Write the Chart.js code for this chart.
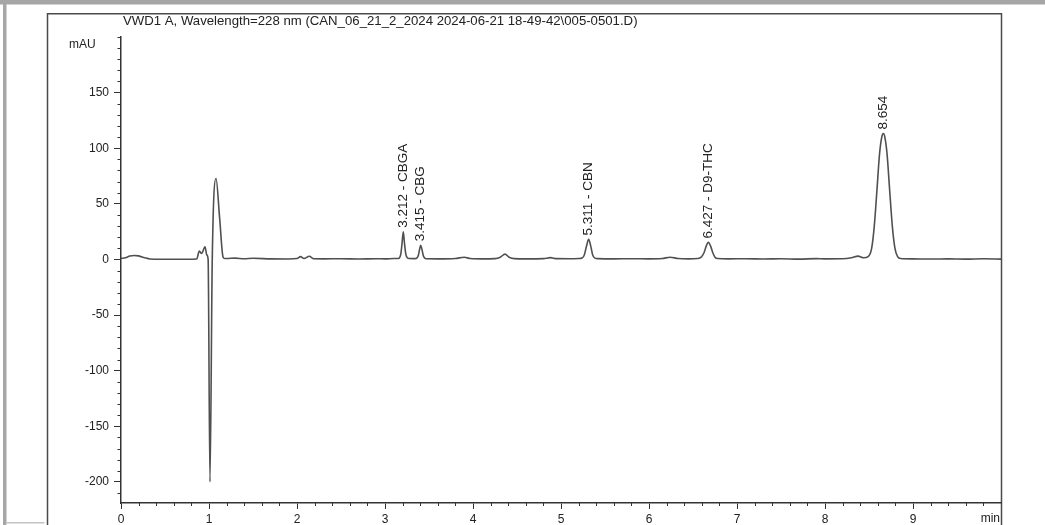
<!DOCTYPE html>
<html><head><meta charset="utf-8">
<script src="https://cdn.jsdelivr.net/npm/chart.js@4.4.1/dist/chart.umd.min.js"></script>
<style>html,body{margin:0;padding:0;background:#fff;overflow:hidden}canvas{display:block}</style>
</head><body>
<canvas id="c" width="1045" height="525"></canvas>
<script>
const titleText = 'VWD1 A, Wavelength=228 nm (CAN_06_21_2_2024 2024-06-21 18-49-42\\005-0501.D)';
const yUnit = 'mAU';
const xUnit = 'min';

// retention time (min)
const times = [
  0.00, 0.05, 0.10, 0.15, 0.20, 0.27, 0.33, 0.45, 0.60, 0.75,
  0.86, 0.89, 0.915, 0.955, 0.975, 0.99, 1.011, 1.037, 1.08, 1.12, 1.16, 1.18,
  1.20, 1.30, 1.40, 1.50, 1.70, 1.90, 2.00, 2.04, 2.08, 2.14, 2.19, 2.30, 2.50, 2.70, 2.90, 3.00, 3.10, 3.15,
  3.165, 3.18, 3.193, 3.208, 3.222, 3.236, 3.25, 3.27,
  3.34, 3.365, 3.38, 3.393, 3.406, 3.42, 3.433, 3.448, 3.47,
  3.60, 3.80, 3.90, 3.97, 4.10, 4.25, 4.31, 4.364, 4.41, 4.47, 4.60, 4.80, 4.88, 4.95, 5.10, 5.20,
  5.24, 5.265, 5.29, 5.314, 5.338, 5.36, 5.385, 5.42,
  5.60, 5.80, 6.00, 6.15, 6.24, 6.33, 6.45, 6.55,
  6.59, 6.625, 6.65, 6.674, 6.70, 6.725, 6.75, 6.78,
  6.90, 7.10, 7.30, 7.50, 7.70, 7.90, 8.00, 8.20, 8.30, 8.375, 8.44,
  8.49, 8.53, 8.56, 8.59, 8.62, 8.645, 8.663, 8.68, 8.705, 8.735, 8.765, 8.795, 8.825, 8.86,
  9.00, 9.20, 9.40, 9.60, 9.80, 10.00
];
// detector signal (mAU)
const signal = [
  0.8, 1.5, 3.0, 3.6, 3.2, 1.5, 0.4, 0.1, 0.2, 0.2,
  0.4, 7.5, 5.4, 11.3, 4.0, 0.0, -200, 0.0, 72.8, 38, 2.0, 0.8,
  0.8, 1.2, 0.6, 1.0, 0.5, 0.4, 0.8, 2.5, 0.8, 2.8, 0.6, 0.5, 0.6, 0.4, 0.6, 0.5, 0.8, 0.9,
  1.5, 5.0, 14, 24.8, 14, 5.0, 1.8, 0.8,
  0.7, 1.5, 4.0, 9.0, 12.8, 9.0, 4.0, 1.5, 0.6,
  0.5, 0.9, 2.0, 0.8, 0.5, 0.7, 2.0, 4.8, 2.0, 0.7, 0.5, 0.7, 1.6, 0.7, 0.6, 0.8,
  1.3, 4.0, 12, 18, 12, 4.0, 1.2, 0.7,
  0.5, 0.6, 0.5, 0.8, 2.0, 0.8, 0.5, 0.8,
  1.8, 6.0, 12, 15.3, 12, 6.0, 2.0, 0.8,
  0.5, 0.6, 0.4, 0.6, 0.3, 0.7, 0.5, 0.6, 1.5, 3.0, 1.5,
  2.5, 10, 30, 62, 95, 110, 113.2, 110, 95, 62, 30, 10, 2.5, 0.8,
  0.5, 0.4, 0.5, 0.3, 0.6, 0.3
];

const peakTimes = [3.208, 3.406, 5.314, 6.674, 8.663];
const peakHeights = [24.8, 12.8, 18, 15.3, 113.2];
const peakLabels = ['3.212 - CBGA', '3.415 - CBG', '5.311 - CBN', '6.427 - D9-THC', '8.654'];

const xTickValues = [0, 1, 2, 3, 4, 5, 6, 7, 8, 9];
const yTickValues = [-200, -150, -100, -50, 0, 50, 100, 150];
const xMinorStep = 0.2;
const yMinorStep = 10;

const FONT = "'Liberation Sans', Arial, Helvetica, sans-serif";
const points = times.map((t, i) => ({x: t, y: signal[i]}));

const decor = {
  id: 'decor',
  beforeDraw(chart) {
    const ctx = chart.ctx, W = chart.width, H = chart.height;
    ctx.save();
    ctx.fillStyle = '#fff';
    ctx.fillRect(0, 0, W, H);
    ctx.fillStyle = '#a6a6a6';
    ctx.fillRect(0, 0, W, 4.5);
    ctx.fillRect(3, 0, 3.5, H);
    ctx.fillStyle = '#c4c4c4';
    ctx.fillRect(6.5, 522, 38, 1.5);
    ctx.strokeStyle = '#4a4a4a';
    ctx.lineWidth = 1.5;
    ctx.beginPath();
    ctx.moveTo(47.5, H);
    ctx.lineTo(47.5, 13.75);
    ctx.lineTo(1001.5, 13.75);
    ctx.lineTo(1001.5, H);
    ctx.stroke();
    ctx.restore();
  },
  afterDraw(chart) {
    const ctx = chart.ctx;
    const xs = chart.scales.x, ys = chart.scales.y;
    const area = chart.chartArea;
    ctx.save();
    ctx.strokeStyle = '#333';
    ctx.lineWidth = 1;
    ctx.beginPath();
    for (let v = xMinorStep; v < xs.max - 1e-6; v += xMinorStep) {
      if (Math.abs(v - Math.round(v)) < 1e-6) continue;
      const px = Math.round(xs.getPixelForValue(v)) + 0.5;
      ctx.moveTo(px, area.bottom);
      ctx.lineTo(px, area.bottom + 3);
    }
    for (let v = -210; v <= ys.max + 1e-6; v += yMinorStep) {
      if (v % 50 === 0 && v !== 200) continue;
      const py = Math.round(ys.getPixelForValue(v)) + 0.5;
      ctx.moveTo(area.left, py);
      ctx.lineTo(area.left - 3.5, py);
    }
    ctx.stroke();

    ctx.fillStyle = '#222';
    ctx.font = '13.2px ' + FONT;
    ctx.textAlign = 'left';
    ctx.textBaseline = 'middle';
    ctx.fillText(titleText, 123, 21);

    ctx.font = '12px ' + FONT;
    ctx.fillText(yUnit, 69, 45);
    ctx.textAlign = 'right';
    ctx.fillText(xUnit, 1000, 519);

    ctx.font = '13.5px ' + FONT;
    ctx.textAlign = 'left';
    ctx.textBaseline = 'middle';
    peakTimes.forEach((t, i) => {
      const px = xs.getPixelForValue(t);
      const py = ys.getPixelForValue(peakHeights[i]);
      ctx.save();
      ctx.translate(px, py - 4);
      ctx.rotate(-Math.PI / 2);
      ctx.fillText(peakLabels[i], 0, 0);
      ctx.restore();
    });
    ctx.restore();
  }
};

new Chart(document.getElementById('c'), {
  type: 'line',
  data: {
    datasets: [{
      data: points,
      borderColor: '#505050',
      borderWidth: 1.6,
      pointRadius: 0,
      fill: false,
      cubicInterpolationMode: 'monotone'
    }]
  },
  options: {
    responsive: false,
    animation: false,
    devicePixelRatio: 1,
    events: [],
    layout: {padding: {left: 0, top: 37, right: 44, bottom: 0}},
    plugins: {legend: {display: false}, title: {display: false}, tooltip: {enabled: false}},
    scales: {
      x: {
        type: 'linear', min: 0, max: 10,
        afterBuildTicks: s => { s.ticks = xTickValues.map(v => ({value: v})); },
        afterFit: s => { s.height = 22; },
        grid: {display: true, drawOnChartArea: false, drawTicks: true, tickLength: 6, color: '#333', lineWidth: 1},
        border: {display: true, color: '#333', width: 1.5},
        ticks: {padding: 3, maxRotation: 0, autoSkip: false, color: '#222', font: {family: FONT, size: 12}}
      },
      y: {
        type: 'linear', min: -219, max: 200,
        afterBuildTicks: s => { s.ticks = yTickValues.map(v => ({value: v})); },
        afterFit: s => { s.width = 121; },
        grid: {display: true, drawOnChartArea: false, drawTicks: true, tickLength: 7, color: '#333', lineWidth: 1},
        border: {display: true, color: '#333', width: 1.5},
        ticks: {padding: 5, autoSkip: false, color: '#222', font: {family: FONT, size: 12}}
      }
    }
  },
  plugins: [decor]
});
</script>
</body></html>
